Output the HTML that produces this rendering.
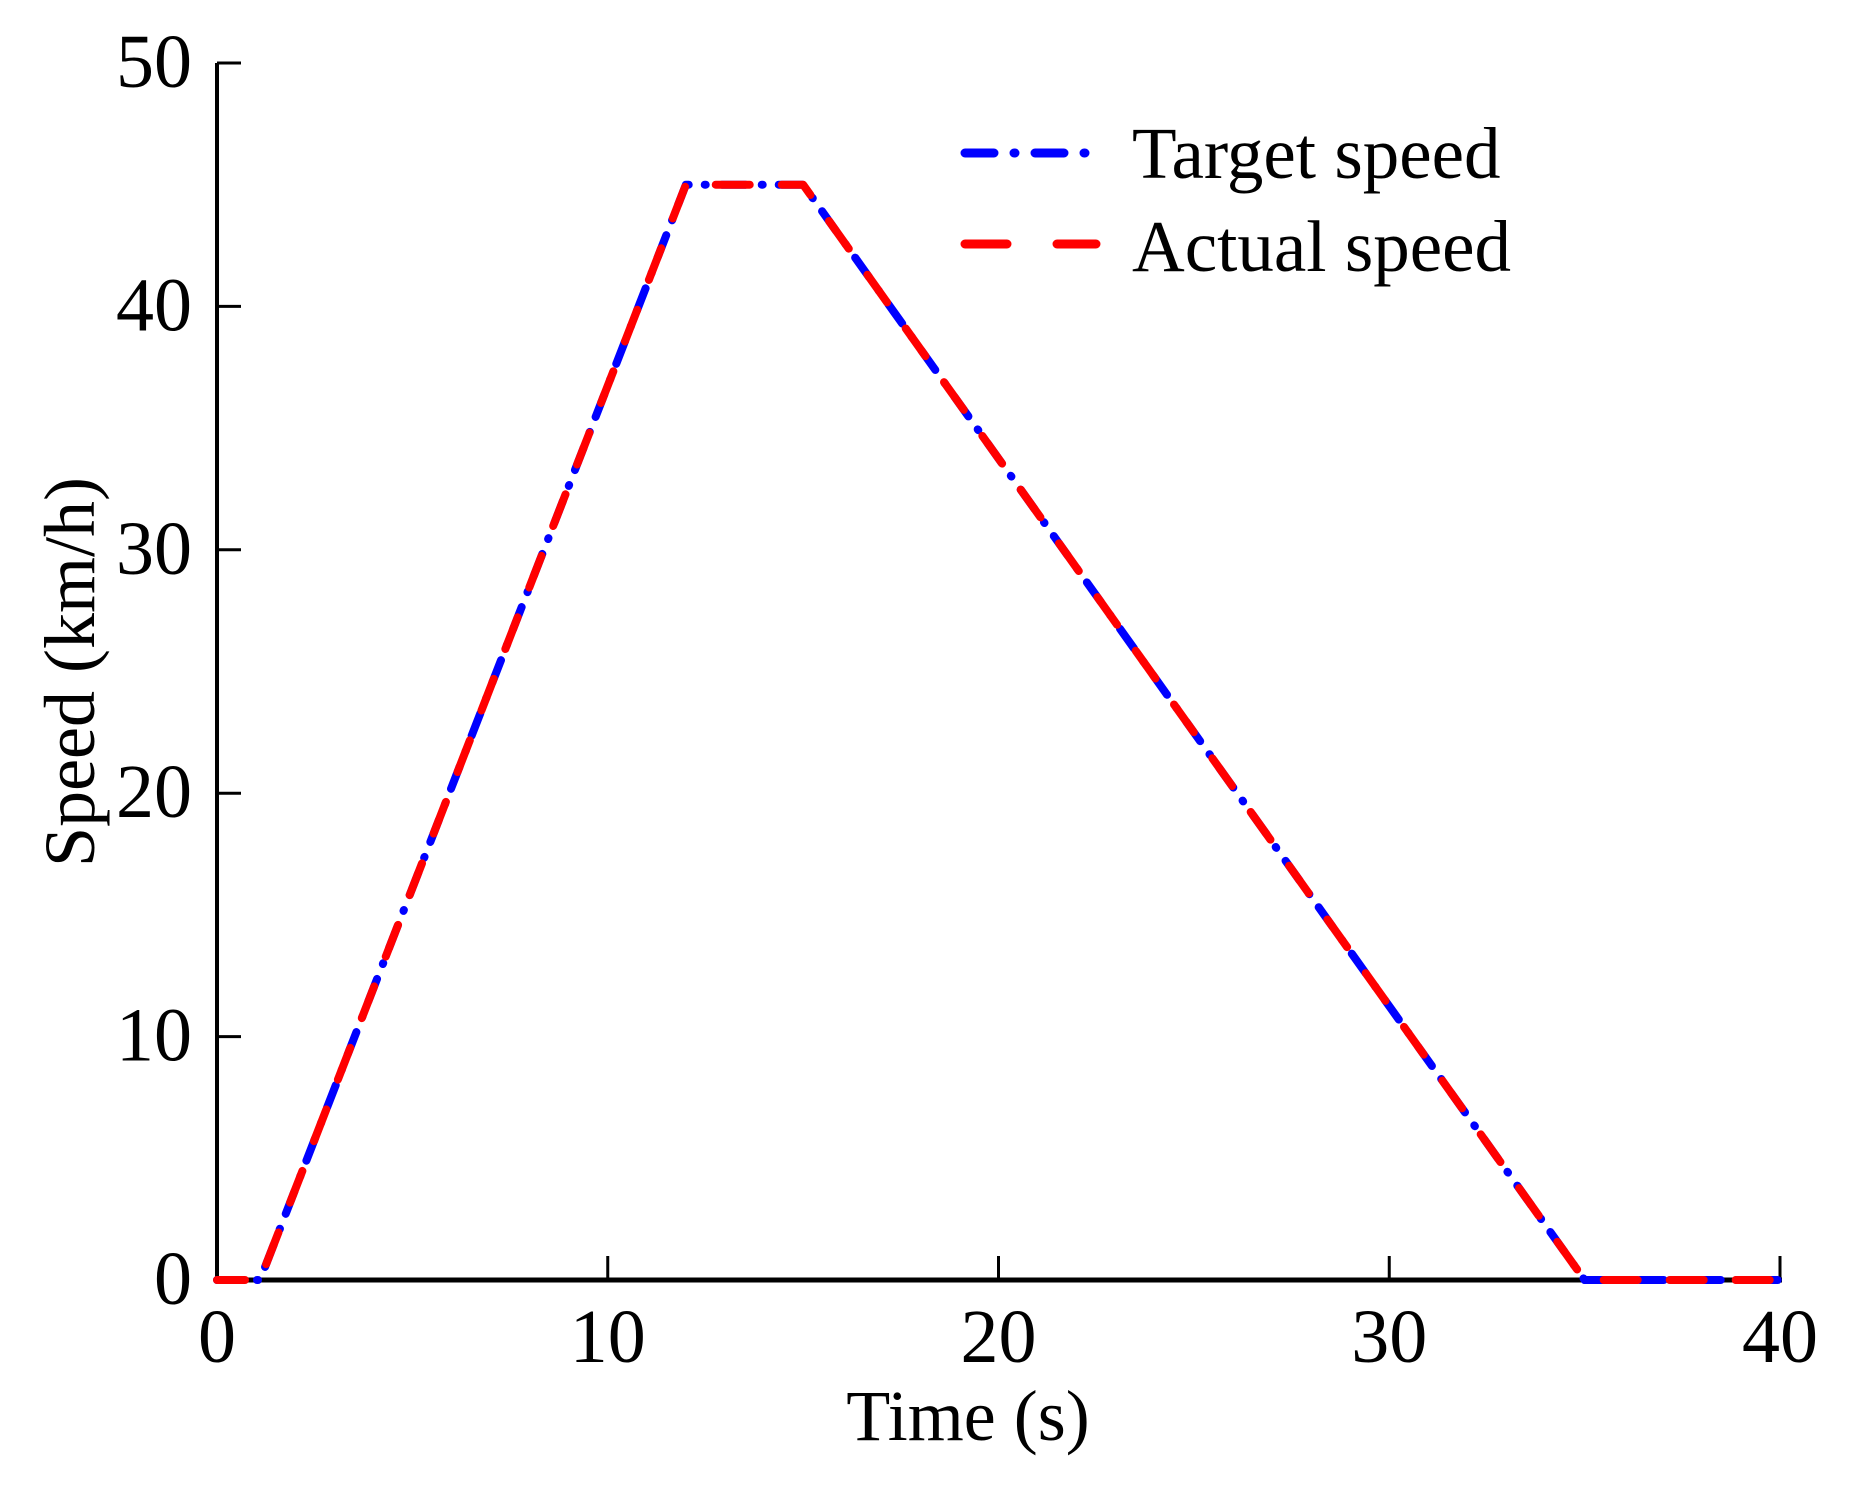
<!DOCTYPE html>
<html><head><meta charset="utf-8"><style>
html,body{margin:0;padding:0;background:#fff;}
svg{display:block;font-family:"Liberation Serif",serif;}
</style></head><body>
<svg id="chart" width="1854" height="1489" viewBox="0 0 1854 1489" xmlns="http://www.w3.org/2000/svg">
<g id="axes"></g>
<g id="series"></g>
<g id="legend">
  <line x1="965" y1="153" x2="1096" y2="153" stroke="#0000ff" stroke-width="9" stroke-linecap="round" stroke-dasharray="29 20 1 20"/>
  <text x="1132" y="178" font-size="73">Target speed</text>
  <line x1="965" y1="244" x2="1096" y2="244" stroke="#ff0000" stroke-width="9" stroke-linecap="round" stroke-dasharray="42 50"/>
  <text x="1132" y="271" font-size="73">Actual speed</text>
</g>
<text x="968" y="1440" font-size="72" text-anchor="middle">Time (s)</text>
<text transform="translate(94,672) rotate(-90)" font-size="72" text-anchor="middle">Speed (km/h)</text>
</svg>
<script>
const xTicks = [0, 10, 20, 30, 40];
const yTicks = [0, 10, 20, 30, 40, 50];
const targetT = [0, 1.1, 12, 15, 35, 40];
const targetV = [0, 0, 45, 45, 0, 0];
const actualT = [0, 1.1, 12, 15, 35, 40];
const actualV = [0, 0, 45, 45, 0, 0];

const X0 = 217, X1 = 1780, Y0 = 1280, Y1 = 63;
function sx(t){ return X0 + (t - 0) / 40 * (X1 - X0); }
function sy(v){ return Y0 - (v - 0) / 50 * (Y0 - Y1); }
const NS = "http://www.w3.org/2000/svg";
function mk(tag, attrs, parent){
  const e = document.createElementNS(NS, tag);
  for (const k in attrs) e.setAttribute(k, attrs[k]);
  parent.appendChild(e);
  return e;
}
const axes = document.getElementById('axes');
const series = document.getElementById('series');

xTicks.forEach(t => {
  const l = mk('line', {x1: sx(t), x2: sx(t), y1: Y0, y2: Y0 - 24, stroke: '#000', 'stroke-width': 3}, axes);
  
  
  const tx = mk('text', {x: sx(t), y: 1362, 'font-size': 76, 'text-anchor': 'middle'}, axes);
  tx.textContent = t;
  
  
});
yTicks.forEach(v => {
  const l = mk('line', {x1: X0, x2: X0 + 24, y1: sy(v), y2: sy(v), stroke: '#000', 'stroke-width': 3}, axes);
  
  
  const tx = mk('text', {x: 192, y: sy(v) + 24, 'font-size': 76, 'text-anchor': 'end'}, axes);
  tx.textContent = v;
  
  
});
const xa = mk('line', {x1: X0 - 2, x2: X1 + 2, y1: Y0, y2: Y0, stroke: '#000', 'stroke-width': 5}, axes);


const ya = mk('line', {x1: X0, x2: X0, y1: Y0 + 2, y2: Y1, stroke: '#000', 'stroke-width': 4}, axes);



function pts(T, V){ return T.map((t, i) => sx(t) + ',' + sy(V[i])).join(' '); }
const tl = mk('polyline', {points: pts(targetT, targetV), fill: 'none', stroke: '#0000ff', 'stroke-width': 8, 'stroke-linecap': 'round', 'stroke-linejoin': 'round', 'stroke-dasharray': '24 16 1 16'}, series);


const al = mk('polyline', {points: pts(actualT, actualV), fill: 'none', stroke: '#ff0000', 'stroke-width': 8, 'stroke-linecap': 'round', 'stroke-linejoin': 'round', 'stroke-dasharray': '34 32', 'stroke-dashoffset': 6}, series);


</script>
</body></html>
